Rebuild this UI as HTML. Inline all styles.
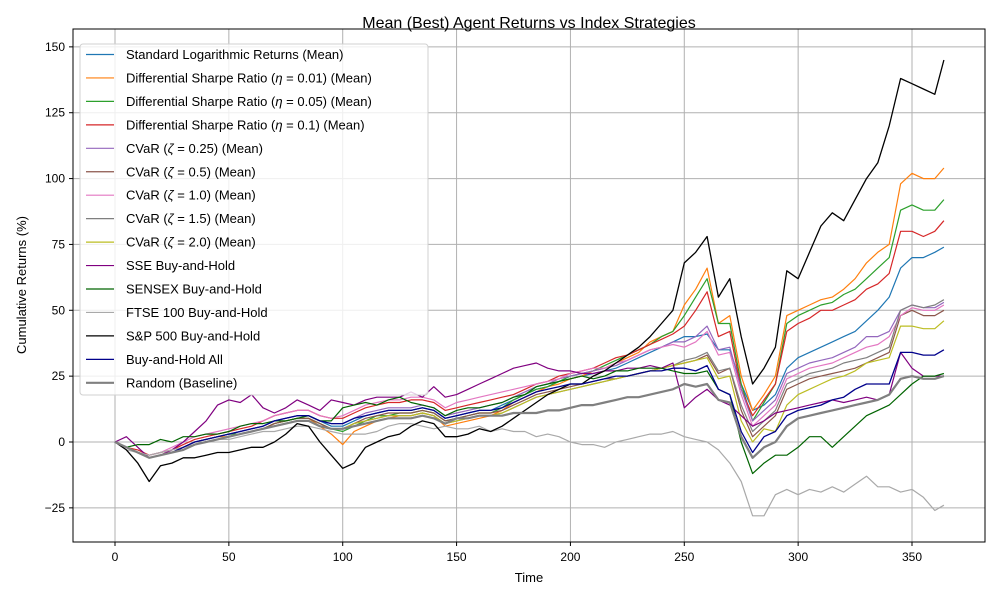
<!DOCTYPE html>
<html><head><meta charset="utf-8"><style>body{margin:0;background:#fff}svg{font-family:"Liberation Sans","DejaVu Sans",sans-serif}</style></head>
<body>
<svg id="chart" width="1000" height="600" xmlns="http://www.w3.org/2000/svg">
<rect width="1000" height="600" fill="#fff"/>
<text x="529" y="28" font-size="16" text-anchor="middle">Mean (Best) Agent Returns vs Index Strategies</text>
<g id="grid"></g><g id="series"></g>
<rect x="73" y="29" width="912" height="513" fill="none" stroke="#000" stroke-width="1"/>
<g id="ticks"></g>
<text x="529" y="582" font-size="13" text-anchor="middle">Time</text>
<text x="26" y="285" font-size="13" text-anchor="middle" transform="rotate(-90 26 285)">Cumulative Returns (%)</text>
<g id="legend"></g>
</svg>
<script>
const times=[0,5,10,15,20,25,30,35,40,45,50,55,60,65,70,75,80,85,90,95,100,105,110,115,120,125,130,135,140,145,150,155,160,165,170,175,180,185,190,195,200,205,210,215,220,225,230,235,240,245,250,255,260,265,270,275,280,285,290,295,300,305,310,315,320,325,330,335,340,345,350,355,360,364];
const xTicks=[0,50,100,150,200,250,300,350];
const yTicks=[-25,0,25,50,75,100,125,150];
const sStd=[0,-2,-4,-6,-5,-4,-2,0,1,2,3,4,5,6,8,9,10,10,8,6,6, 8,10,11,12,12,12,13,12,9,10,11,12,12,14,16,18,20,21,23,24, 25,26,27,28,30,32,34,36,38,40,40,41,35,35,22,12,14,18,28,32, 34,36,38,40,42,46,50,55,66,70,70,72,74];
const sD001=[0,-2,-4,-6,-5,-4,-2,0,1,2,2,3,4,5,7,8,9,9,6,3,-1, 4,6,8,9,10,10,11,10,6,7,8,9,10,12,15,17,19,21,22,24, 25,27,28,30,32,34,38,40,42,52,58,66,45,48,25,12,18,25,48,50, 52,54,55,58,62,68,72,75,98,102,100,100,104];
const sD005=[0,-2,-4,-6,-5,-4,-2,0,1,2,3,3,4,5,7,8,9,9,7,5,4, 6,8,10,10,11,11,12,11,8,9,10,11,11,13,16,18,20,21,23,25, 26,27,29,31,33,35,37,40,42,48,55,62,45,45,22,8,15,22,45,48, 50,52,53,56,58,62,66,70,88,90,88,88,92];
const sD01=[0,-2,-3,-5,-4,-3,-1,1,2,3,4,5,6,8,10,11,12,12,10,9,9, 11,13,14,15,15,16,16,15,12,13,14,15,16,17,18,20,22,23,25,26, 27,28,30,32,33,35,37,39,41,44,50,57,40,42,20,10,16,22,42,45, 47,50,50,52,54,58,60,64,80,80,78,80,84];
const sC025=[0,-2,-4,-6,-5,-4,-2,0,1,2,3,4,5,6,8,9,10,10,8,7,7, 9,11,12,13,13,13,14,13,10,11,12,13,14,15,17,19,21,22,24,25, 26,27,28,29,31,33,35,36,38,38,40,44,35,36,20,8,12,16,26,28, 30,31,32,34,36,40,40,42,50,52,51,51,53];
const sC05=[0,-2,-4,-6,-5,-4,-3,-1,0,1,2,3,4,5,7,8,9,9,7,5,5, 7,9,10,11,11,11,12,11,8,9,10,11,11,12,14,16,18,19,20,21, 22,23,24,24,25,26,27,28,29,30,31,33,26,28,12,2,6,10,20,22, 24,25,26,27,28,30,32,34,48,50,48,48,50];
const sC10=[0,-2,-4,-5,-4,-2,0,2,3,4,5,6,7,8,10,11,12,12,10,9,10, 12,14,15,16,16,17,17,16,13,15,16,17,18,19,20,21,22,23,24,26, 27,28,28,30,31,33,35,36,37,36,38,42,33,34,18,6,10,14,24,26, 28,29,30,32,34,36,37,40,48,51,50,50,52];
const sC15=[0,-2,-4,-6,-5,-4,-3,-1,0,1,2,3,4,5,6,7,8,8,6,5,5, 7,8,9,10,10,10,11,10,7,8,9,10,10,11,13,15,17,18,19,20, 21,22,23,24,25,26,27,28,29,31,32,34,27,28,14,4,8,12,22,24, 26,27,28,30,31,32,34,36,50,52,51,52,54];
const sC20=[0,-2,-4,-6,-5,-4,-3,-1,0,1,2,3,4,5,6,7,8,8,6,5,5, 7,8,9,10,10,10,11,10,7,8,9,10,10,11,13,15,17,18,19,20, 21,22,23,24,25,26,27,28,29,30,31,32,24,25,8,0,5,4,14,18, 20,22,24,25,27,30,31,32,44,44,43,43,46];
const sSSE=[0,2,-2,-6,-5,-3,0,4,8,14,16,15,18,13,11,13,16,14,12,16,15, 14,16,17,17,17,19,17,21,17,18,20,22,24,26,28,29,30,28,27,27, 26,26,27,27,28,28,29,28,30,13,17,20,16,14,10,6,8,11,12,13, 14,15,16,15,16,17,16,18,34,28,25,25,25];
const sSensex=[0,-2,-1,-1,1,0,2,2,3,3,4,6,7,7,8,8,9,10,8,8,13, 14,15,14,16,17,15,14,13,10,12,13,13,14,15,17,18,21,22,23,24, 25,24,25,27,27,28,28,28,27,26,26,27,20,18,0,-12,-8,-5,-5,-2, 2,2,-2,2,6,10,12,14,18,22,25,25,26];
const sFtse=[0,-3,-4,-5,-4,-3,-2,-1,0,1,1,2,3,4,4,5,6,6,5,4,3, 3,3,4,6,7,7,6,5,6,5,5,6,4,5,4,4,2,3,2,0, -1,-1,-2,0,1,2,3,3,4,2,1,0,-3,-8,-15,-28,-28,-20,-18,-20, -18,-19,-17,-19,-16,-13,-17,-17,-19,-18,-21,-26,-24];
const sSP=[0,-3,-8,-15,-9,-8,-6,-6,-5,-4,-4,-3,-2,-2,0,3,7,6,0,-5,-10, -8,-2,0,2,3,6,8,7,2,2,3,5,4,6,9,12,15,18,20,22, 22,25,27,30,33,36,40,45,50,68,72,78,55,62,40,22,28,36,65,62, 72,82,87,84,92,100,106,120,138,136,134,132,145];
const sBHAll=[0,-2,-4,-6,-5,-4,-2,0,1,2,3,4,5,6,8,9,10,10,8,7,7, 9,10,11,12,12,12,13,12,9,10,11,12,12,13,15,17,19,20,21,22, 22,23,24,25,25,26,27,27,28,28,27,29,20,18,4,-4,2,4,10,12, 13,14,16,17,20,22,22,22,34,34,33,33,35];
const sRandom=[0,-2,-4,-6,-5,-4,-3,-1,0,1,2,3,4,5,6,7,8,8,6,5,5, 6,7,8,9,9,9,10,9,7,9,9,10,10,10,11,11,11,12,12,13, 14,14,15,16,17,17,18,19,20,22,21,22,16,15,2,-6,-2,0,6,9, 10,11,12,13,14,15,16,18,24,25,24,24,25];

const NS='http://www.w3.org/2000/svg';
const xs=t=>115+t*(797/350);
const ys=v=>442-v*(461/175);
function mk(tag,attrs,parent){const e=document.createElementNS(NS,tag);for(const k in attrs)e.setAttribute(k,attrs[k]);parent.appendChild(e);return e;}
const grid=document.getElementById('grid'),ticks=document.getElementById('ticks');
xTicks.forEach(t=>{const x=xs(t);
 const g=mk('line',{x1:x,x2:x,y1:29,y2:542,stroke:'#b0b0b0','stroke-width':1},grid);
 
 
 mk('line',{x1:x,x2:x,y1:542,y2:546,stroke:'#000'},ticks);
 const l=mk('text',{x:x,y:561,'font-size':12,'text-anchor':'middle'},ticks);l.textContent=t;
 
 });
yTicks.forEach(v=>{const y=ys(v);
 const g=mk('line',{x1:73,x2:985,y1:y,y2:y,stroke:'#b0b0b0','stroke-width':1},grid);
 
 
 mk('line',{x1:69,x2:73,y1:y,y2:y,stroke:'#000'},ticks);
 const l=mk('text',{x:65,y:y+4,'font-size':12,'text-anchor':'end'},ticks);l.textContent=(v<0?'\u2212'+(-v):v);
 
 });
const series=[
 ['Standard Logarithmic Returns (Mean)',sStd,'#1f77b4',1.2,null],
 ['Differential Sharpe Ratio (η = 0.01) (Mean)',sD001,'#ff7f0e',1.2,['Differential Sharpe Ratio (','η',' = 0.01) (Mean)']],
 ['Differential Sharpe Ratio (η = 0.05) (Mean)',sD005,'#2ca02c',1.2,['Differential Sharpe Ratio (','η',' = 0.05) (Mean)']],
 ['Differential Sharpe Ratio (η = 0.1) (Mean)',sD01,'#d62728',1.2,['Differential Sharpe Ratio (','η',' = 0.1) (Mean)']],
 ['CVaR (ζ = 0.25) (Mean)',sC025,'#9467bd',1.2,['CVaR (','ζ',' = 0.25) (Mean)']],
 ['CVaR (ζ = 0.5) (Mean)',sC05,'#8c564b',1.2,['CVaR (','ζ',' = 0.5) (Mean)']],
 ['CVaR (ζ = 1.0) (Mean)',sC10,'#e377c2',1.2,['CVaR (','ζ',' = 1.0) (Mean)']],
 ['CVaR (ζ = 1.5) (Mean)',sC15,'#7f7f7f',1.2,['CVaR (','ζ',' = 1.5) (Mean)']],
 ['CVaR (ζ = 2.0) (Mean)',sC20,'#bcbd22',1.2,['CVaR (','ζ',' = 2.0) (Mean)']],
 ['SSE Buy-and-Hold',sSSE,'#800080',1.2,null],
 ['SENSEX Buy-and-Hold',sSensex,'#006400',1.2,null],
 ['FTSE 100 Buy-and-Hold',sFtse,'#a9a9a9',1.2,null],
 ['S&P 500 Buy-and-Hold',sSP,'#000000',1.3,null],
 ['Buy-and-Hold All',sBHAll,'#00008b',1.3,null],
 ['Random (Baseline)',sRandom,'#808080',2.2,null]];
const sg=document.getElementById('series');
series.forEach(s=>{const pts=s[1].map((v,i)=>xs(times[i]).toFixed(1)+','+ys(v).toFixed(1)).join(' ');
 const p=mk('polyline',{points:pts,fill:'none',stroke:s[2],'stroke-width':s[3],'stroke-linejoin':'round'},sg);
 
 });
const lg=document.getElementById('legend');
const box=mk('rect',{x:80,y:44,width:348,height:351,rx:3,fill:'#fff','fill-opacity':0.8,stroke:'#d0d0d0'},lg);


series.forEach((s,i)=>{const y=54.5+i*23.45;
 const ln=mk('line',{x1:86,x2:114,y1:y,y2:y,stroke:s[2],'stroke-width':s[3]},lg);
 
 
 const t=mk('text',{x:126,y:y+4.5,'font-size':13},lg);
 if(s[4]){t.appendChild(document.createTextNode(s[4][0]));const it=mk('tspan',{'font-style':'italic'},t);it.textContent=s[4][1];t.appendChild(document.createTextNode(s[4][2]));}
 else t.textContent=s[0];
 
 });
</script>
</body></html>
